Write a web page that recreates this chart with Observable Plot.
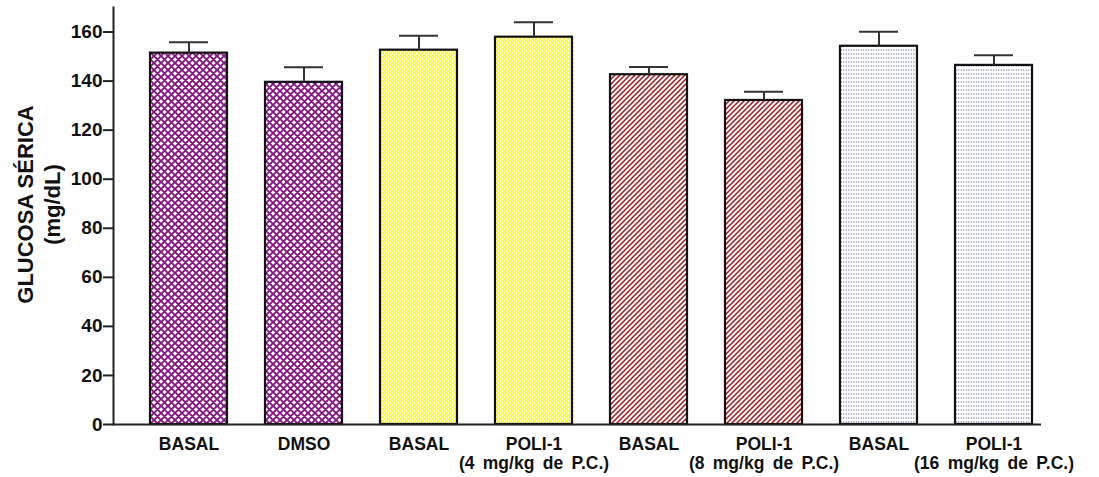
<!DOCTYPE html>
<html>
<head>
<meta charset="utf-8">
<script src="https://cdn.jsdelivr.net/npm/d3@7"></script>
<script src="https://cdn.jsdelivr.net/npm/@observablehq/plot@0.6"></script>
<style>
  html, body { margin: 0; padding: 0; background: #fff; }
  #chart svg { display: block; }
  #chart svg g[aria-label="x-axis tick label"] text { word-spacing: 3.5px; }
</style>
</head>
<body>
<div id="chart"></div>
<script>
// ---- data ----
const ids = ["g1", "g2", "g3", "g4", "g5", "g6", "g7", "g8"];
const labels = [
  "BASAL", "DMSO", "BASAL", "POLI-1\n(4 mg/kg de P.C.)",
  "BASAL", "POLI-1\n(8 mg/kg de P.C.)", "BASAL", "POLI-1\n(16 mg/kg de P.C.)"
];
const means = [151.4, 139.5, 152.6, 157.9, 142.6, 132.1, 154.2, 146.4];
const errors = [4.4, 6.1, 5.9, 6.1, 3.1, 3.6, 5.9, 4.1];
const patterns = ["purple", "purple", "yellow", "yellow", "red", "red", "dots", "dots"];
const yTicks = [0, 20, 40, 60, 80, 100, 120, 140, 160];
const yTitle = "GLUCOSA SÉRICA\n(mg/dL)";

const data = ids.map((id, i) => ({id, label: labels[i], mean: means[i], err: errors[i], pattern: patterns[i]}));
const labelOf = new Map(ids.map((id, i) => [id, labels[i]]));

const chart = Plot.plot({
  width: 1099,
  height: 477,
  marginLeft: 113,
  marginRight: 58,
  marginTop: 7,
  marginBottom: 53,
  style: {fontFamily: "'Liberation Sans', Arial, sans-serif", fontWeight: "bold", background: "white", color: "#111"},
  x: {domain: ids, range: [150, 1037], paddingInner: 0.333, paddingOuter: 0, align: 0},
  y: {domain: [0, 170]},
  color: {type: "identity"},
  marks: [
    Plot.barY(data, {x: "id", y: "mean", fill: d => `url(#pat-${d.pattern})`, stroke: "#111", strokeWidth: 2.2}),
    Plot.ruleX(data, {x: "id", y1: "mean", y2: d => d.mean + d.err, stroke: "#333", strokeWidth: 2}),
    Plot.tickY(data, {x: "id", y: d => d.mean + d.err, stroke: "#333", strokeWidth: 2, insetLeft: 19, insetRight: 19}),
    Plot.axisY({ticks: yTicks, tickSize: 10, tickPadding: 1, fontSize: 19, label: null, stroke: "#222", strokeWidth: 2}),
    Plot.axisX({tickSize: 0, tickPadding: 12, fontSize: 17.5, lineHeight: 1.1, tickFormat: id => labelOf.get(id), label: null}),
    Plot.ruleY([0], {stroke: "#222", strokeWidth: 2}),
    Plot.frame({anchor: "left", stroke: "#222", strokeWidth: 2}),
    Plot.text([yTitle], {text: d => d, frameAnchor: "left", textAnchor: "middle", lineAnchor: "middle", rotate: -90, dx: -76, dy: -11.5, fontSize: 22, lineHeight: 1.22, fill: "#111"})
  ]
});

const defs = d3.select(chart).insert("defs", ":first-child");
defs.html(`
  <pattern id="pat-purple" patternUnits="userSpaceOnUse" width="7" height="7">
    <rect width="7" height="7" fill="#ffffff"/>
    <path d="M0,0L7,7M7,0L0,7M-1,1L1,-1M6,8L8,6M-1,6L1,8M6,-1L8,1" stroke="#861283" stroke-width="1.9" fill="none"/>
  </pattern>
  <pattern id="pat-yellow" patternUnits="userSpaceOnUse" width="4" height="4">
    <rect width="4" height="4" fill="#ffff22"/>
    <rect x="0" y="0" width="1" height="2" fill="#ffffff"/>
    <rect x="2" y="2" width="1" height="2" fill="#ffffff"/>
  </pattern>
  <pattern id="pat-red" patternUnits="userSpaceOnUse" width="5" height="5">
    <rect width="5" height="5" fill="#ffffff"/>
    <path d="M-1,1L1,-1M0,5L5,0M4,6L6,4" stroke="#a8141a" stroke-width="1.5" fill="none"/>
  </pattern>
  <pattern id="pat-dots" patternUnits="userSpaceOnUse" width="2.5" height="4">
    <rect width="2.5" height="4" fill="#ffffff"/>
    <rect x="0.75" y="1.5" width="1" height="1" fill="#3a3a8c"/>
  </pattern>
`);

document.getElementById("chart").appendChild(chart);
</script>
</body>
</html>
